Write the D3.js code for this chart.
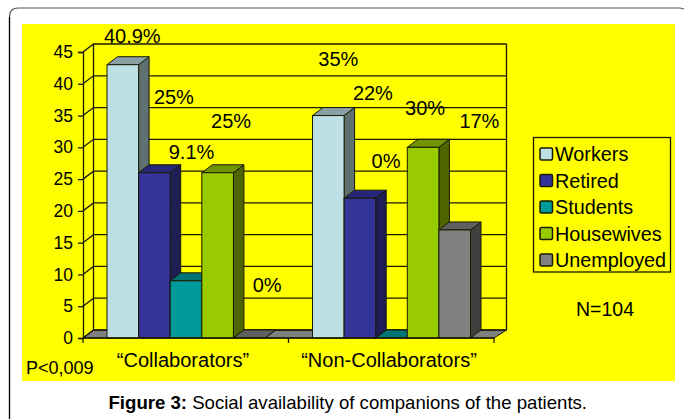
<!DOCTYPE html>
<html>
<head>
<meta charset="utf-8">
<script src="https://cdn.jsdelivr.net/npm/d3@7"></script>
<style>
  html, body { margin: 0; padding: 0; background: #fff; overflow: hidden; }
  text { font-family: "Liberation Sans", Arial, sans-serif; fill: #000; }
</style>
</head>
<body>
<div id="chart"></div>
<script>
const categories = ['\u201CCollaborators\u201D', '\u201CNon-Collaborators\u201D'];
const seriesNames = ['Workers', 'Retired', 'Students', 'Housewives', 'Unemployed'];
const collaborators = [43, 26, 9, 26, 0];
const nonCollaborators = [35, 22, 0, 30, 17];
const collabLabels = ['40.9%', '25%', '9.1%', '25%', '0%'];
const nonCollabLabels = ['35%', '22%', '0%', '30%', '17%'];
const yTicks = [0, 5, 10, 15, 20, 25, 30, 35, 40, 45];

// front, top, side colours for each series
const faceColors = [
    ['#bce0e4', '#8aa0a5', '#5f7070'],
    ['#333399', '#26267a', '#1f1f55'],
    ['#009999', '#007373', '#004d4d'],
    ['#99cc00', '#6f9400', '#4f6600'],
    ['#808080', '#5f5f5f', '#404040']
];

// where the percent labels sit, relative to the top of their bar
const labelNudge = [
    [[9.5, -21.5], [19.5, -69], [5.5, -122], [13.5, -45], [18, -46]],
    [[10, -50], [13, -98], [-5.5, -170], [2, -32], [24.7, -102]]
];

const width = 684;
const height = 419;
const depthX = 10.5;
const depthY = 8;
const ink = '#1a1a00';

const svg = d3.select('#chart')
    .append('svg')
    .attr('width', width)
    .attr('height', height)
    .style('display', 'block');

// Rounded page frame
svg.append('path')
    .attr('d', `M9.5,${height} V17 Q9.5,8 18,8 H680 L684,9`)
    .attr('fill', 'none')
    .attr('stroke', '#555')
    .attr('stroke-width', 1.2);
svg.append('path')
    .attr('d', `M9.5,${height} V17`)
    .attr('fill', 'none')
    .attr('stroke', '#000')
    .attr('stroke-width', 1.2);

// Yellow chart area
svg.append('rect')
    .attr('x', 22).attr('y', 24)
    .attr('width', 653).attr('height', 357)
    .attr('fill', '#ffff00');

const y = d3.scaleLinear().domain([0, 45]).range([338, 52]);
const x0 = d3.scaleBand().domain(categories).range([83, 494]);
const x1 = d3.scaleBand().domain(seriesNames).range([24, 182]);

const plot = svg.append('g');

// Floor
plot.append('polygon')
    .attr('points', [
        [x0.range()[0], y(0)],
        [x0.range()[0] + depthX, y(0) - depthY],
        [x0.range()[1] + depthX + 2, y(0) - depthY],
        [x0.range()[1], y(0)]
    ].join(' '))
    .attr('fill', '#808080')
    .attr('stroke', ink);

// Back wall and side wall gridlines
const wallLeft = x0.range()[0] + depthX;
const wallRight = x0.range()[1] + depthX + 2;
plot.selectAll('.grid')
    .data(yTicks)
    .enter()
    .append('path')
    .attr('class', 'grid')
    .attr('d', d => `M${x0.range()[0]},${y(d)} L${wallLeft},${y(d) - depthY} H${wallRight}`)
    .attr('fill', 'none')
    .attr('stroke', ink)
    .attr('stroke-width', 1.3);

plot.append('path')
    .attr('d', `M${wallLeft},${y(0) - depthY} V${y(45) - depthY} M${wallRight},${y(0) - depthY} V${y(45) - depthY}`)
    .attr('stroke', ink)
    .attr('stroke-width', 1.3);

// Bars, left to right so each one covers the side of the previous
const groups = [collaborators, nonCollaborators];
const labels = [collabLabels, nonCollabLabels];

groups.forEach((values, g) => {
    values.forEach((v, s) => {
        const left = x0(categories[g]) + x1(seriesNames[s]);
        const right = left + x1.bandwidth();
        const top = y(v);
        const base = y(0);
        const colors = faceColors[s];
        const bar = plot.append('g')
            .attr('stroke', ink)
            .attr('stroke-width', 1);
        bar.append('polygon')
            .attr('points', [[right, top], [right + depthX, top - depthY], [right + depthX, base - depthY], [right, base]].join(' '))
            .attr('fill', colors[2]);
        bar.append('polygon')
            .attr('points', [[left, top], [left + depthX, top - depthY], [right + depthX, top - depthY], [right, top]].join(' '))
            .attr('fill', colors[1]);
        bar.append('rect')
            .attr('x', left)
            .attr('y', top)
            .attr('width', x1.bandwidth())
            .attr('height', base - top)
            .attr('fill', colors[0]);
    });
});

// Axes
const yAxis = d3.axisLeft(y)
    .tickValues(yTicks)
    .tickSize(5)
    .tickPadding(5);
const yAxisG = svg.append('g')
    .attr('transform', `translate(${x0.range()[0]},0)`)
    .call(yAxis);
yAxisG.selectAll('text').style('font-size', '17.5px').attr('fill', '#000');
yAxisG.selectAll('line, path').attr('stroke', ink).attr('stroke-width', 1.3);

const xAxisG = svg.append('g')
    .attr('transform', `translate(0,${y(0)})`);
xAxisG.append('path')
    .attr('d', `M${x0.range()[0]},0 H${x0.range()[1]}`)
    .attr('stroke', ink)
    .attr('stroke-width', 1.3);
xAxisG.selectAll('line')
    .data([x0.range()[0], x0(categories[1]), x0.range()[1]])
    .enter()
    .append('line')
    .attr('x1', d => d).attr('x2', d => d)
    .attr('y1', 0).attr('y2', 5)
    .attr('stroke', ink)
    .attr('stroke-width', 1.3);

const categoryLabelX = [183, 389];
categories.forEach((c, i) => {
    svg.append('text')
        .attr('x', categoryLabelX[i])
        .attr('y', 367)
        .attr('text-anchor', 'middle')
        .style('font-size', '20px')
        .text(c);
});

// Percent labels
groups.forEach((values, g) => {
    values.forEach((v, s) => {
        svg.append('text')
            .attr('x', x0(categories[g]) + x1(seriesNames[s]) + x1.bandwidth() / 2 + labelNudge[g][s][0])
            .attr('y', y(v) + labelNudge[g][s][1])
            .attr('text-anchor', 'middle')
            .style('font-size', '20px')
            .text(labels[g][s]);
    });
});

// Legend
const legend = svg.append('g');
legend.append('rect')
    .attr('x', 533.5).attr('y', 137.5)
    .attr('width', 137).attr('height', 134.5)
    .attr('fill', '#ffff00')
    .attr('stroke', ink)
    .attr('stroke-width', 1.3);

const legendY = d3.scalePoint().domain(seriesNames).range([154, 260]);
seriesNames.forEach((name, s) => {
    legend.append('rect')
        .attr('x', 540).attr('y', legendY(name) - 6)
        .attr('width', 12.5).attr('height', 12)
        .attr('rx', 1.5)
        .attr('fill', faceColors[s][0])
        .attr('stroke', ink)
        .attr('stroke-width', 1.5);
    legend.append('text')
        .attr('x', 555).attr('y', legendY(name) + 7)
        .style('font-size', '19.8px')
        .text(name);
});

// Notes
svg.append('text')
    .attr('x', 605).attr('y', 316)
    .attr('text-anchor', 'middle')
    .style('font-size', '19.5px')
    .text('N=104');
svg.append('text')
    .attr('x', 26).attr('y', 374)
    .style('font-size', '18px')
    .text('P<0,009');

// Caption
const caption = svg.append('text')
    .attr('x', 108.5).attr('y', 409)
    .style('font-size', '18.6px')
    .attr('fill', '#222');
caption.append('tspan').style('font-weight', 'bold').text('Figure 3:');
caption.append('tspan').text(' Social availability of companions of the patients.');
</script>
</body>
</html>
